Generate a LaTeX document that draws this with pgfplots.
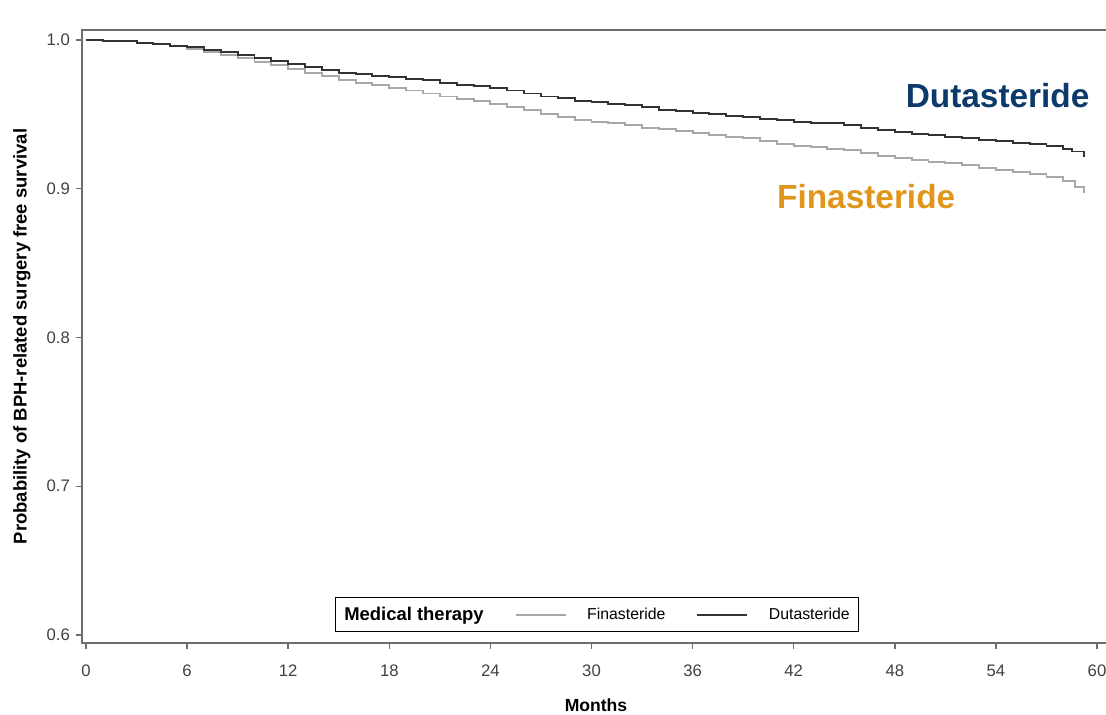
\documentclass[border=0pt]{standalone}
\usepackage{pgfplots}
\pgfplotsset{compat=1.18}
\usepackage{fontspec}
\setmainfont{Liberation Sans}
\usetikzlibrary{calc}

\definecolor{dutablue}{HTML}{0B3A6B}
\definecolor{finaorange}{HTML}{E0961A}
\definecolor{darkline}{HTML}{333333}
\definecolor{lightline}{HTML}{A8A8A8}
\definecolor{axisgray}{HTML}{6E6E6E}

\pgfplotstableread{
month surv
0    1.000
1    0.9995
2    0.999
3    0.998
4    0.997
5    0.996
6    0.995
7    0.9935
8    0.992
9    0.990
10   0.988
11   0.986
12   0.984
13   0.982
14   0.980
15   0.978
16   0.977
17   0.976
18   0.975
19   0.974
20   0.973
21   0.971
22   0.970
23   0.969
24   0.968
25   0.966
26   0.964
27   0.962
28   0.961
29   0.959
30   0.958
31   0.957
32   0.956
33   0.955
34   0.953
35   0.952
36   0.951
37   0.950
38   0.949
39   0.948
40   0.947
41   0.946
42   0.945
43   0.944
44   0.944
45   0.943
46   0.941
47   0.9395
48   0.938
49   0.937
50   0.936
51   0.935
52   0.934
53   0.933
54   0.932
55   0.931
56   0.930
57   0.929
58   0.927
58.5 0.925
59.2 0.921
}\dutadata

\pgfplotstableread{
month surv
0    1.000
1    0.9995
2    0.999
3    0.998
4    0.997
5    0.996
6    0.994
7    0.992
8    0.990
9    0.988
10   0.985
11   0.983
12   0.9805
13   0.978
14   0.976
15   0.973
16   0.971
17   0.970
18   0.968
19   0.966
20   0.964
21   0.962
22   0.960
23   0.959
24   0.957
25   0.955
26   0.953
27   0.950
28   0.948
29   0.946
30   0.945
31   0.944
32   0.943
33   0.941
34   0.940
35   0.939
36   0.9375
37   0.936
38   0.935
39   0.934
40   0.932
41   0.930
42   0.929
43   0.928
44   0.927
45   0.926
46   0.924
47   0.922
48   0.9207
49   0.919
50   0.918
51   0.917
52   0.916
53   0.914
54   0.9126
55   0.911
56   0.910
57   0.908
58   0.905
58.7 0.901
59.2 0.897
}\finadata

\begin{document}
\begin{tikzpicture}
\begin{axis}[
    scale only axis,
    width=20.56cm, height=12.26cm,
    xmin=-0.237, xmax=60.77,
    ymin=0.5946, ymax=1.0067,
    xtick={0,6,...,60},
    ytick={0.6,0.7,0.8,0.9,1.0},
    yticklabel style={/pgf/number format/fixed, /pgf/number format/precision=1, /pgf/number format/fixed zerofill},
    /pgf/number format/assume math mode=true,
    tick align=outside,
    xtick pos=bottom, ytick pos=left,
    major tick length=0.12cm,
    tick style={axisgray, line width=0.8pt},
    axis line style={axisgray, line width=1.3pt},
    ticklabel style={font=\fontsize{9.5}{11}\selectfont, text=black!75},
    xticklabel style={yshift=-0.19cm},
    xlabel={\textbf{Months}},
    ylabel={\textbf{Probability of BPH-related surgery free survival}},
    xlabel style={at={(axis description cs:0.5,-0.101)}, anchor=center, font=\fontsize{10}{12}\selectfont},
    ylabel style={at={(axis description cs:-0.0584,0.5)}, anchor=center, font=\fontsize{10.5}{12}\selectfont},
    legend columns=-1,
    legend cell align=left,
    legend image code/.code={\draw[#1] (0cm,0cm) -- (1cm,0cm); \path (1.34cm,0cm);},
    legend style={at={(axis description cs:0.501,0.018)}, anchor=south,
        draw=black, line width=0.6pt, inner xsep=3pt, inner ysep=3pt,
        font=\fontsize{9}{10}\selectfont,
        /tikz/every even column/.append style={column sep=0.55cm}},
]
\addlegendimage{empty legend}
\addlegendentry{\fontsize{10.5}{12}\selectfont\textbf{Medical therapy}}
\addplot[const plot, lightline, line width=1.1pt] table[x=month, y=surv] {\finadata};
\addlegendentry{Finasteride}
\addplot[const plot, darkline, line width=1.1pt] table[x=month, y=surv] {\dutadata};
\addlegendentry{Dutasteride}
\node[font=\fontsize{19}{22}\selectfont\bfseries, text=dutablue] at (axis cs:54.1,0.9624) {Dutasteride};
\node[font=\fontsize{19}{22}\selectfont\bfseries, text=finaorange] at (axis cs:46.3,0.895) {Finasteride};
\end{axis}
\pgfresetboundingbox
\path[use as bounding box] ($(current axis.south west)+(-1.64cm,-1.44cm)$) rectangle ($(current axis.north east)+(-0.08cm,0.6cm)$);
\end{tikzpicture}
\end{document}
